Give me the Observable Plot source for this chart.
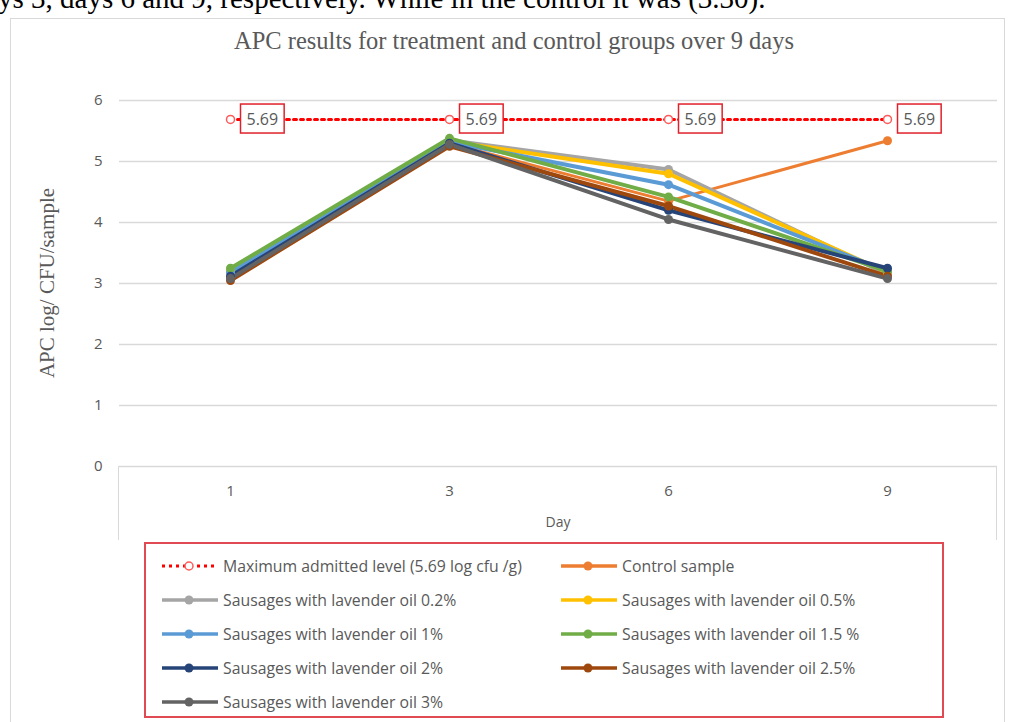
<!DOCTYPE html>
<html><head><meta charset="utf-8">
<script src="https://cdn.jsdelivr.net/npm/d3@7"></script>
<script src="https://cdn.jsdelivr.net/npm/@observablehq/plot@0.6"></script>
<style>
html,body{margin:0;padding:0;background:#fff;}
body{width:1011px;height:722px;overflow:hidden;position:relative;font-family:"Open Sans",sans-serif;}
#frame{position:absolute;left:10px;top:18px;width:995px;height:720px;border:1px solid #d9d9d9;box-sizing:border-box;}
#chart{position:absolute;left:0;top:0;}
#xbox{position:absolute;left:118px;top:466px;width:879px;height:74px;border-left:1px solid #d9d9d9;border-right:1px solid #d9d9d9;box-sizing:border-box;}
#legend{position:absolute;left:144px;top:542px;width:800px;height:176px;border:2px solid #e04a52;box-sizing:border-box;background:#fff;}
.item{position:absolute;height:20px;display:flex;align-items:center;white-space:nowrap;color:#595959;font-size:15.8px;}
.item svg{flex:none;margin-right:5px;}
</style></head><body>
<div id="frame"></div>
<div id="xbox"></div>
<div id="chart"></div>
<div id="legend"></div>
<script>
const days = ["1", "3", "6", "9"];
const series = [
  "Control sample",
  "Sausages with lavender oil 0.2%",
  "Sausages with lavender oil 0.5%",
  "Sausages with lavender oil 1%",
  "Sausages with lavender oil 1.5 %",
  "Sausages with lavender oil 2%",
  "Sausages with lavender oil 2.5%",
  "Sausages with lavender oil 3%"
];
const colors = ["#ED7D31", "#A5A5A5", "#FFC000", "#5B9BD5", "#70AD47", "#264478", "#9E480E", "#636363"];
const control = [3.10, 5.30, 4.35, 5.34];
const oil02 = [3.20, 5.35, 4.87, 3.15];
const oil05 = [3.20, 5.33, 4.80, 3.18];
const oil1 = [3.18, 5.32, 4.62, 3.20];
const oil15 = [3.25, 5.38, 4.42, 3.20];
const oil2 = [3.12, 5.30, 4.20, 3.25];
const oil25 = [3.05, 5.25, 4.27, 3.12];
const oil3 = [3.08, 5.28, 4.05, 3.08];
const maxLevel = [5.69, 5.69, 5.69, 5.69];
const maxName = "Maximum admitted level (5.69 log cfu /g)";
const yTicks = [0, 1, 2, 3, 4, 5, 6];
const titleText = "APC results for treatment and control groups over 9 days";
const yLabel = "APC log/ CFU/sample";
const xLabel = "Day";
const topText = "ys 3, days 6 and 9, respectively. While in the control it was (3.30).";

const allValues = [control, oil02, oil05, oil1, oil15, oil2, oil25, oil3];
const data = [];
allValues.forEach((vals, i) => vals.forEach((v, j) => data.push({series: series[i], day: days[j], value: v})));
const maxData = maxLevel.map((v, j) => ({day: days[j], value: v}));
const ctrlData = data.filter(d => d.series === series[0]);
const oilData = data.filter(d => d.series !== series[0]);

const chart = Plot.plot({
  width: 1011, height: 540,
  marginLeft: 119, marginRight: 14, marginTop: 100, marginBottom: 74,
  style: {fontFamily: "Open Sans", fontSize: "15px", color: "#595959", background: "transparent", overflow: "visible"},
  x: {type: "point", domain: days, padding: 0.5},
  y: {domain: [0, 6]},
  color: {domain: series, range: colors},
  marks: [
    Plot.ruleY(yTicks, {stroke: "#d9d9d9", strokeWidth: 1.3}),
    Plot.axisY({ticks: yTicks, tickFormat: d => String(d), tickSize: 0, tickPadding: 17, fill: "#595959", fontSize: 15, label: null}),
    Plot.axisX({ticks: days, tickSize: 0, tickPadding: 19, fill: "#595959", fontSize: 15, label: null}),
    Plot.line(maxData, {x: "day", y: "value", stroke: "#ff0000", strokeWidth: 3, strokeDasharray: "3 4"}),
    Plot.dot(maxData, {x: "day", y: "value", r: 4, fill: "white", stroke: "#ff5a5a", strokeWidth: 1.5}),
    Plot.text(maxData, {x: "day", y: "value", text: d => d.value.toFixed(2), dx: 16, textAnchor: "start", fill: "#595959", fontSize: 16}),
    Plot.line(ctrlData, {x: "day", y: "value", stroke: "series", strokeWidth: 3}),
    Plot.line(oilData, {x: "day", y: "value", z: "series", stroke: "series", strokeWidth: 4}),
    Plot.dot(data, {x: "day", y: "value", fill: "series", r: 4.5})
  ]
});
document.getElementById("chart").appendChild(chart);

// boxes around the max-level labels
const svg = d3.select(chart);
svg.selectAll('g[aria-label="text"] text').each(function() {
  const bb = this.getBBox();
  const r = d3.select(this.parentNode).insert("rect", () => this)
    .attr("x", bb.x - 6).attr("y", bb.y + bb.height / 2 - 14.5)
    .attr("width", bb.width + 12).attr("height", 29)
    .attr("fill", "white").attr("stroke", "#e0202a").attr("stroke-width", 1.5);
  const t = this.getAttribute("transform");
  if (t) r.attr("transform", t);
});

// titles
svg.append("text").text(topText).attr("x", -2).attr("y", 8).attr("text-anchor", "start")
  .attr("font-family", "Liberation Serif").attr("font-size", 29).attr("fill", "#000");
svg.append("text").text(titleText).attr("x", 514).attr("y", 49).attr("text-anchor", "middle")
  .attr("font-family", "Liberation Serif").attr("font-size", 24.5).attr("fill", "#595959");
svg.append("text").text(yLabel).attr("transform", "translate(54,283) rotate(-90)").attr("text-anchor", "middle")
  .attr("font-family", "Liberation Serif").attr("font-size", 21).attr("fill", "#595959");
svg.append("text").text(xLabel).attr("x", 558).attr("y", 527).attr("text-anchor", "middle")
  .attr("font-family", "Open Sans").attr("font-size", 14).attr("fill", "#595959");

// legend
const legend = document.getElementById("legend");
const items = [{name: maxName, color: "#ff0000", max: true}].concat(series.map((s, i) => ({name: s, color: colors[i]})));
const colX = [14, 413];
const rowY = [22, 56, 90, 124, 158];
items.forEach((it, k) => {
  const col = k % 2, row = Math.floor(k / 2);
  const div = document.createElement("div");
  div.className = "item";
  div.style.left = colX[col] + "px";
  div.style.top = (rowY[row] - 10) + "px";
  const sw = d3.create("svg").attr("width", 58).attr("height", 20);
  if (it.max) {
    sw.append("line").attr("x1", 2).attr("x2", 58).attr("y1", 10).attr("y2", 10)
      .attr("stroke", it.color).attr("stroke-width", 3).attr("stroke-dasharray", "3 4");
    sw.append("circle").attr("cx", 29).attr("cy", 10).attr("r", 4).attr("fill", "white").attr("stroke", "#ff5a5a").attr("stroke-width", 1.5);
  } else {
    sw.append("line").attr("x1", 2).attr("x2", 58).attr("y1", 10).attr("y2", 10)
      .attr("stroke", it.color).attr("stroke-width", 3.5);
    sw.append("circle").attr("cx", 29).attr("cy", 10).attr("r", 4.5).attr("fill", it.color);
  }
  div.appendChild(sw.node());
  const span = document.createElement("span");
  span.textContent = it.name;
  div.appendChild(span);
  legend.appendChild(div);
});
</script>
</body></html>
